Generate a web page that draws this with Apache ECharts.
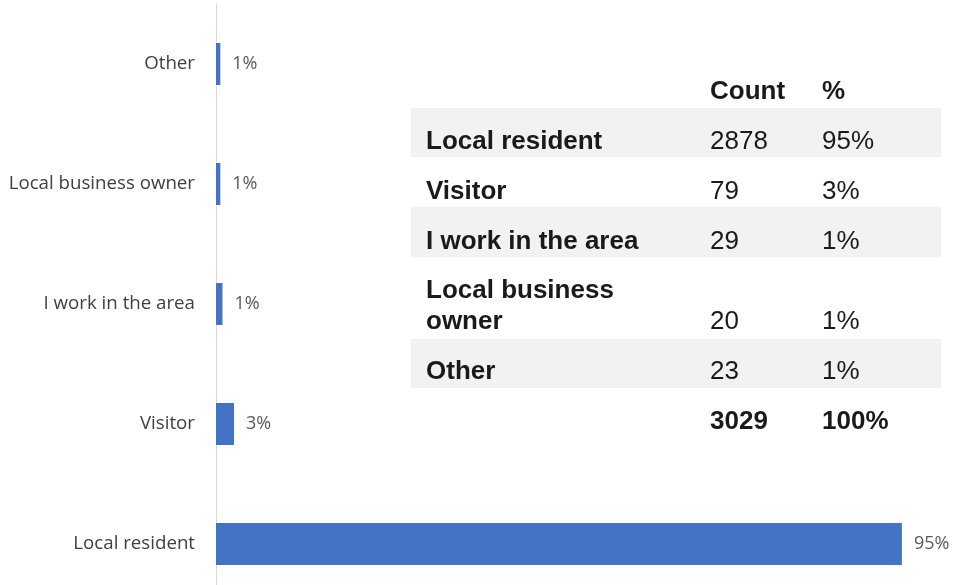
<!DOCTYPE html>
<html>
<head>
<meta charset="utf-8">
<script src="https://cdn.jsdelivr.net/npm/echarts@6/dist/echarts.min.js"></script>
<style>
  html, body { margin: 0; padding: 0; background: #fff; }
  #chart { width: 953px; height: 585px; }
</style>
</head>
<body>
<div id="chart"></div>
<script>
// bar chart data (bottom to top)
const categories = ['Local resident', 'Visitor', 'I work in the area', 'Local business owner', 'Other'];
const shares = [95.0, 2.5, 0.9, 0.6, 0.6];
const shareLabels = ['95%', '3%', '1%', '1%', '1%'];

// table data
const tableNames = ['Local resident', 'Visitor', 'I work in the area', 'Local business\nowner', 'Other'];
const tableCounts = ['2878', '79', '29', '20', '23'];
const tablePcts = ['95%', '3%', '1%', '1%', '1%'];
const tableTotal = ['3029', '100%'];

const chart = echarts.init(document.getElementById('chart'));

// table layout
const tX = 411, tW = 530;
const colName = 426, colCount = 710, colPct = 822;
const rowTops = [108, 157, 207, 257, 339];
const rowBottoms = [157, 207, 257, 339, 388];
const rowBase = [151, 201, 251, 331, 381];
const font = '"Liberation Sans", Arial, sans-serif';
const ink = '#1a1a1a';
const off = 9.5; // baseline -> middle

function txt(s, x, base, bold) {
  return {
    type: 'text', x: x, y: base - off, z: 2,
    style: { text: s, font: (bold ? 'bold ' : '') + '26px ' + font, fill: ink, verticalAlign: 'middle' }
  };
}

const graphic = [];
graphic.push(txt('Count', colCount, 101, true));
graphic.push(txt('%', colPct, 101, true));

tableNames.forEach((name, i) => {
  if (i % 2 === 0) {
    graphic.push({ type: 'rect', z: 1, shape: { x: tX, y: rowTops[i], width: tW, height: rowBottoms[i] - rowTops[i] }, style: { fill: '#f2f2f2' } });
  }
  const lines = name.split('\n');
  lines.forEach((ln, k) => {
    graphic.push(txt(ln, colName, rowBase[i] - (lines.length - 1 - k) * 31, true));
  });
  graphic.push(txt(tableCounts[i], colCount, rowBase[i], false));
  graphic.push(txt(tablePcts[i], colPct, rowBase[i], false));
});
graphic.push(txt(tableTotal[0], colCount, 431, true));
graphic.push(txt(tableTotal[1], colPct, 431, true));

chart.setOption({
  backgroundColor: '#fff',
  animation: false,
  grid: { left: 216, top: 4, width: 722, height: 600, outerBoundsMode: 'none', containLabel: false },
  xAxis: {
    type: 'value', min: 0, max: 100, show: false
  },
  yAxis: {
    type: 'category',
    data: categories,
    axisLine: { show: true, lineStyle: { color: '#d9d9d9', width: 1 } },
    axisTick: { show: false },
    axisLabel: { color: '#404040', fontSize: 18.7, fontFamily: '"Open Sans", sans-serif', margin: 21 }
  },
  series: [{
    type: 'bar',
    data: shares,
    barWidth: 42,
    itemStyle: { color: '#4472C4' },
    label: {
      show: true,
      position: 'right',
      distance: 12,
      color: '#595959',
      fontSize: 18,
      fontFamily: '"Open Sans", sans-serif',
      formatter: p => shareLabels[p.dataIndex]
    }
  }],
  graphic: graphic
});
</script>
</body>
</html>
